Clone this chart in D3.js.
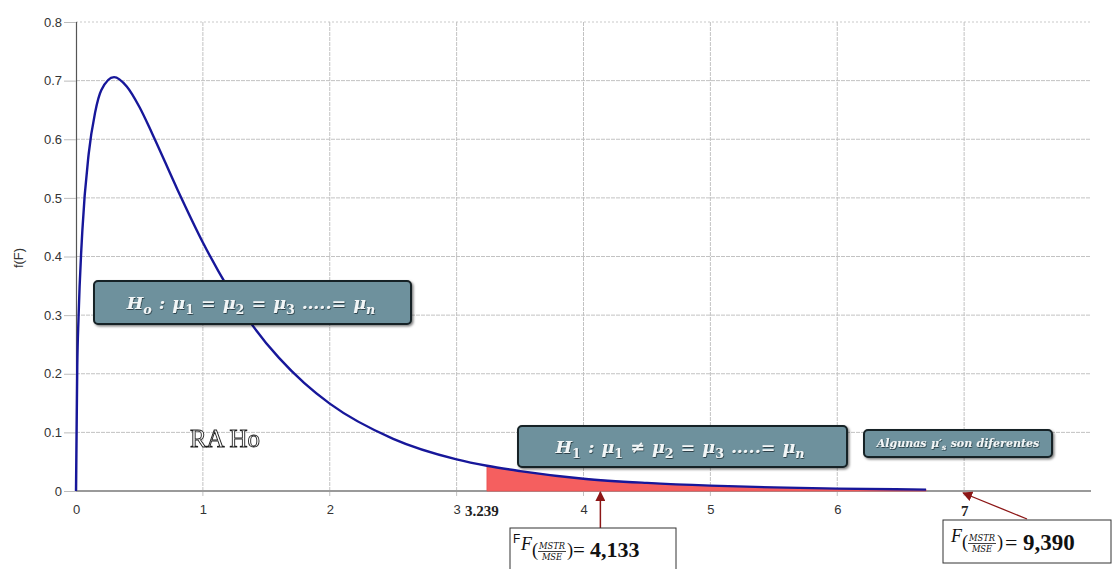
<!DOCTYPE html>
<html>
<head>
<meta charset="utf-8">
<script src="https://cdn.jsdelivr.net/npm/d3@7"></script>
<style>
  html, body { margin: 0; padding: 0; background: #fff; }
  svg { display: block; }
</style>
</head>
<body>
<svg id="chart" width="1112" height="569"></svg>
<script>
// Axis ticks
const xTickValues = [0, 1, 2, 3, 4, 5, 6, 7];
const yTickValues = [0, 0.1, 0.2, 0.3, 0.4, 0.5, 0.6, 0.7, 0.8];

// Density curve f(F), read point by point
const densityX = [0, 0.01, 0.02, 0.05, 0.1, 0.15, 0.2, 0.3, 0.4, 0.5, 0.6, 0.8, 1.0, 1.2, 1.4, 1.6, 1.8, 2.0, 2.5, 3.0, 3.239, 3.5, 4.0, 4.5, 5.0, 5.5, 6.0, 6.7];
const densityY = [0, 0.213, 0.296, 0.444, 0.575, 0.645, 0.684, 0.706, 0.690, 0.655, 0.610, 0.514, 0.424, 0.346, 0.280, 0.227, 0.184, 0.149, 0.089, 0.054, 0.043, 0.034, 0.021, 0.0138, 0.0091, 0.0061, 0.0041, 0.0024];

// Critical value and observed statistic
const criticalValue = 3.239;
const observedValue = 4.133;
const observedLabel = "4,133";
const statisticLabel = "9,390";

const svg = d3.select("#chart");
const W = 1112, H = 569;
svg.append("rect").attr("width", W).attr("height", H).attr("fill", "#fff");

const x = d3.scaleLinear().domain([0, 8]).range([76, 1091]);
const y = d3.scaleLinear().domain([0, 0.8]).range([491, 22]);

const defs = svg.append("defs");
const sh = defs.append("filter").attr("id", "txtShadow").attr("x", "-10%").attr("y", "-30%").attr("width", "120%").attr("height", "160%");
sh.append("feDropShadow").attr("dx", 0.6).attr("dy", 0.8).attr("stdDeviation", 0.7).attr("flood-color", "#102025").attr("flood-opacity", 0.85);
const bsh = defs.append("filter").attr("id", "boxShadow").attr("x", "-5%").attr("y", "-20%").attr("width", "110%").attr("height", "140%");
bsh.append("feDropShadow").attr("dx", 1.5).attr("dy", 1.5).attr("stdDeviation", 1).attr("flood-color", "#000").attr("flood-opacity", 0.5);
const flat = defs.append("filter").attr("id", "flat");
flat.append("feOffset").attr("dx", 0).attr("dy", 0);
defs.append("marker").attr("id", "arrowRed").attr("viewBox", "0 0 10 10").attr("refX", 9).attr("refY", 5)
  .attr("markerWidth", 10).attr("markerHeight", 10).attr("markerUnits", "userSpaceOnUse").attr("orient", "auto")
  .append("path").attr("d", "M0,0 L10,5 L0,10 Z").attr("fill", "#8c1616");

// Grid
const grid = svg.append("g").attr("class", "grid");
grid.selectAll("line.h").data(yTickValues.filter(d => d > 0)).join("line")
  .attr("x1", x(0)).attr("x2", x(8)).attr("y1", d => y(d)).attr("y2", d => y(d))
  .attr("stroke", d => d === 0.8 ? "#c9c9c9" : "#c2c2c2").attr("stroke-width", 1)
  .attr("stroke-dasharray", d => d === 0.8 ? "2,2" : "4,1");
grid.selectAll("line.v").data(xTickValues.filter(d => d > 0)).join("line")
  .attr("x1", d => x(d)).attr("x2", d => x(d)).attr("y1", y(0.8)).attr("y2", y(0) + 6)
  .attr("stroke", "#c2c2c2").attr("stroke-width", 1).attr("stroke-dasharray", "4,1");

// Y axis
const yAxis = svg.append("g").attr("transform", `translate(${x(0)},0)`)
  .call(d3.axisLeft(y).tickValues(yTickValues).tickSize(12).tickPadding(2)
    .tickFormat(d => d === 0 ? "0" : d3.format(".1f")(d)));
yAxis.select(".domain").attr("stroke", "#555").attr("stroke-width", 1.2);
yAxis.selectAll(".tick line").attr("stroke", "#bcbcbc");
yAxis.selectAll(".tick text").attr("font-family", "Liberation Sans, Arial, sans-serif").attr("font-size", 13).attr("fill", "#333");

// X axis baseline and labels
svg.append("line").attr("x1", x(0)).attr("x2", x(8)).attr("y1", y(0)).attr("y2", y(0))
  .attr("stroke", "#9a9a9a").attr("stroke-width", 2);
const xAxis = svg.append("g").attr("transform", `translate(0,${y(0)})`)
  .call(d3.axisBottom(x).tickValues(xTickValues).tickSize(0).tickPadding(14).tickFormat(d3.format("d")));
xAxis.select(".domain").remove();
xAxis.selectAll(".tick text").attr("font-family", "Liberation Sans, Arial, sans-serif").attr("font-size", 13).attr("fill", "#333");
xAxis.selectAll(".tick text").filter(d => d === 7)
  .attr("font-family", "Liberation Serif, Times New Roman, serif").attr("font-weight", "bold").attr("font-size", 15).attr("fill", "#222");

svg.append("text").attr("x", x(criticalValue) - 22).attr("y", 516)
  .attr("font-family", "Liberation Serif, Times New Roman, serif").attr("font-weight", "bold").attr("font-size", 15).attr("fill", "#222")
  .text(String(criticalValue));

// Axis title
svg.append("text").attr("transform", "translate(23,258) rotate(-90)").attr("text-anchor", "middle")
  .attr("font-family", "Liberation Sans, Arial, sans-serif").attr("font-size", 13).attr("fill", "#333").text("f(F)");

// Rejection region
const pts = densityX.map((d, i) => ({ x: d, y: densityY[i] }));
const tail = pts.filter(p => p.x >= criticalValue);
svg.append("path").datum(tail)
  .attr("d", d3.area().x(p => x(p.x)).y0(y(0)).y1(p => y(p.y)).curve(d3.curveMonotoneX))
  .attr("fill", "#f55f5f").attr("stroke", "#e85050").attr("stroke-width", 0.8);

// Density curve
svg.append("path").datum(pts)
  .attr("d", d3.line().x(p => x(p.x)).y(p => y(p.y)).curve(d3.curveMonotoneX))
  .attr("fill", "none").attr("stroke", "#17179a").attr("stroke-width", 2.4);

// Hypothesis boxes
const mathFont = "DejaVu Serif, serif";
function mathLine(g, cx, base, parts, size, spacing, weight) {
  const t = g.append("text").attr("x", cx).attr("y", base).attr("text-anchor", "middle")
    .attr("font-family", mathFont).attr("font-style", "italic").attr("font-size", size)
    .attr("font-weight", weight || "normal").attr("word-spacing", spacing || 0)
    .attr("fill", "#f2f6f7").attr("filter", "url(#txtShadow)");
  let shifted = false;
  parts.forEach(([s, kind]) => {
    const ts = t.append("tspan").text(s);
    if (kind === "sub") {
      ts.attr("font-size", size * 0.72).attr("dy", shifted ? 0 : size * 0.3).attr("font-style", "normal");
      if (/[a-z]/.test(s)) ts.attr("font-style", "italic");
      shifted = true;
    } else {
      if (shifted) ts.attr("dy", -size * 0.3);
      shifted = false;
    }
  });
  return t;
}
function box(x0, y0, x1, y1) {
  const bg = svg.append("g");
  bg.append("rect").attr("x", x0).attr("y", y0).attr("width", x1 - x0).attr("height", y1 - y0)
    .attr("rx", 4).attr("fill", "#6e919d").attr("stroke", "#172126").attr("stroke-width", 2)
    .attr("filter", "url(#boxShadow)");
  return bg;
}
mathLine(box(94, 281, 411, 324), 251, 309,
  [["H", ""], ["o", "sub"], [" : μ", ""], ["1", "sub"], [" = μ", ""], ["2", "sub"], [" = μ", ""], ["3", "sub"], [" …..= μ", ""], ["n", "sub"]], 17.5, 1, "bold");

mathLine(box(518, 426, 847, 467), 680, 453,
  [["H", ""], ["1", "sub"], [" : μ", ""], ["1", "sub"], [" ≠ μ", ""], ["2", "sub"], [" = μ", ""], ["3", "sub"], [" …..= μ", ""], ["n", "sub"]], 17.5, 1, "bold");

mathLine(box(864, 430, 1052, 457), 958, 447,
  [["Algunas μ′", ""], ["s", "sub"], [" son diferentes", ""]], 11, 0.5, "bold");

// RA Ho label
svg.append("text").attr("x", 225).attr("y", 447).attr("text-anchor", "middle")
  .attr("font-family", "Liberation Serif, Times New Roman, serif").attr("font-size", 25)
  .attr("fill", "#ffffff").attr("stroke", "#1e1e1e").attr("stroke-width", 0.9)
  .attr("filter", "url(#flat)").text("RA Ho");

// Annotation: observed statistic
const ax = x(observedValue);
svg.append("line").attr("x1", ax).attr("x2", ax).attr("y1", 528).attr("y2", y(0) + 1)
  .attr("stroke", "#8c1616").attr("stroke-width", 1.5).attr("marker-end", "url(#arrowRed)");
svg.append("rect").attr("x", 510).attr("y", 528).attr("width", 166).attr("height", 45)
  .attr("fill", "#fff").attr("stroke", "#333").attr("stroke-width", 1);

function fraction(gg, xl, base, size) {
  // (MSTR / MSE) subscript
  const ser = "Liberation Serif, Times New Roman, serif";
  gg.append("text").attr("x", xl).attr("y", base + 10).attr("font-family", ser).attr("font-size", size * 1.15).attr("fill", "#111").text("(");
  const fx0 = xl + 6, fw = 28;
  gg.append("text").attr("x", fx0 + fw / 2).attr("y", base + 3).attr("text-anchor", "middle")
    .attr("font-family", mathFont).attr("font-style", "italic").attr("font-size", 8.3).attr("fill", "#111").text("MSTR");
  gg.append("line").attr("x1", fx0).attr("x2", fx0 + fw).attr("y1", base + 5.5).attr("y2", base + 5.5).attr("stroke", "#111").attr("stroke-width", 0.8);
  gg.append("text").attr("x", fx0 + fw / 2).attr("y", base + 14).attr("text-anchor", "middle")
    .attr("font-family", mathFont).attr("font-style", "italic").attr("font-size", 8.3).attr("fill", "#111").text("MSE");
  gg.append("text").attr("x", fx0 + fw + 1).attr("y", base + 10).attr("font-family", ser).attr("font-size", size * 1.15).attr("fill", "#111").text(")");
  return fx0 + fw + 7;
}
const a1 = svg.append("g");
a1.append("text").attr("x", 513).attr("y", 543).attr("font-family", "Liberation Sans, Arial, sans-serif").attr("font-size", 12).attr("fill", "#111").text("F");
a1.append("text").attr("x", 521).attr("y", 550).attr("font-family", "Liberation Serif, Times New Roman, serif").attr("font-style", "italic").attr("font-size", 18).attr("fill", "#111").text("F");
let nx = fraction(a1, 532, 546, 16);
a1.append("text").attr("x", nx).attr("y", 557).attr("font-family", "Liberation Serif, Times New Roman, serif").attr("font-size", 21).attr("fill", "#111")
  .html(`= <tspan font-weight="bold" font-size="22">${observedLabel}</tspan>`);

// Annotation: F statistic beyond the axis
svg.append("line").attr("x1", 1027).attr("x2", x(7) - 1).attr("y1", 519).attr("y2", y(0) + 2)
  .attr("stroke", "#8c1616").attr("stroke-width", 1.3).attr("marker-end", "url(#arrowRed)");
svg.append("rect").attr("x", 943).attr("y", 520).attr("width", 168).attr("height", 43)
  .attr("fill", "#fff").attr("stroke", "#333").attr("stroke-width", 1);
const a2 = svg.append("g");
a2.append("text").attr("x", 951).attr("y", 542).attr("font-family", "Liberation Serif, Times New Roman, serif").attr("font-style", "italic").attr("font-size", 18).attr("fill", "#111").text("F");
nx = fraction(a2, 962, 538, 16);
a2.append("text").attr("x", nx + 2).attr("y", 550).attr("font-family", "Liberation Serif, Times New Roman, serif").attr("font-size", 22).attr("fill", "#111")
  .html(`= <tspan font-weight="bold" font-size="23">${statisticLabel}</tspan>`);
</script>
</body>
</html>
